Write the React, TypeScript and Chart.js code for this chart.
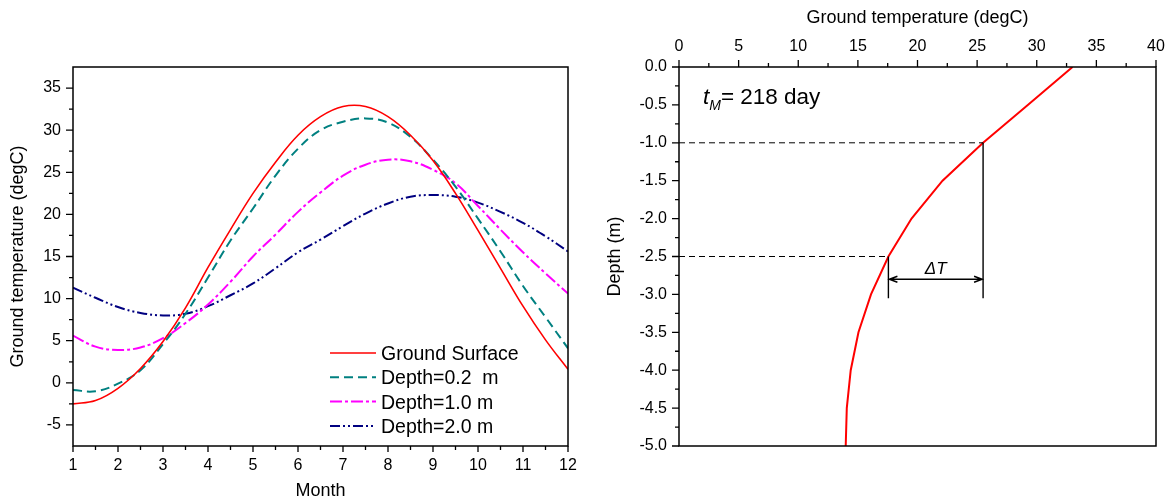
import React, { useEffect, useRef } from "react";
import { Chart, registerables } from "chart.js";

Chart.register(...registerables);

const FONT = '"Liberation Sans", Arial, Helvetica, sans-serif';
Chart.defaults.font.family = FONT;
Chart.defaults.color = "#000";

// ---------- Left chart data ----------
const months = [1, 1.5, 2, 2.5, 3, 3.5, 4, 4.5, 5, 5.5, 6, 6.5, 7, 7.5, 8, 8.5, 9, 9.5, 10, 10.5, 11, 11.5, 12];
const groundSurface = [-2.5, -2.1, -0.65, 1.7, 4.9, 8.9, 13.7, 18.2, 22.5, 26.2, 29.4, 31.6, 32.8, 32.8, 31.6, 29.4, 26.4, 22.5, 18.1, 13.6, 9.1, 5.1, 1.6];
const depth02 = [-0.85, -1.0, -0.1, 1.5, 4.6, 8.2, 12.5, 16.9, 20.7, 24.6, 27.8, 30.0, 31.0, 31.4, 30.9, 29.2, 26.5, 23.3, 19.5, 15.6, 11.5, 7.8, 4.1];
const depth10 = [5.6, 4.3, 3.9, 4.2, 5.3, 7.1, 9.3, 12.0, 15.0, 17.6, 20.3, 22.6, 24.6, 25.9, 26.5, 26.3, 25.3, 23.7, 21.0, 18.2, 15.5, 13.0, 10.6];
const depth20 = [11.3, 10.1, 9.0, 8.3, 8.0, 8.2, 9.1, 10.4, 11.8, 13.6, 15.5, 17.0, 18.6, 20.1, 21.3, 22.1, 22.3, 22.1, 21.4, 20.3, 19.0, 17.4, 15.6];
const seriesLabels = ["Ground Surface", "Depth=0.2  m", "Depth=1.0 m", "Depth=2.0 m"];

const monthTicks = [1, 2, 3, 4, 5, 6, 7, 8, 9, 10, 11, 12];
const monthMinor = [1.5, 2.5, 3.5, 4.5, 5.5, 6.5, 7.5, 8.5, 9.5, 10.5, 11.5];
const tempTicksLeft = [-5, 0, 5, 10, 15, 20, 25, 30, 35];
const tempMinorLeft = [-2.5, 2.5, 7.5, 12.5, 17.5, 22.5, 27.5, 32.5];

// ---------- Right chart data ----------
const profileDepth = [0, -0.5, -1.0, -1.5, -2.0, -2.5, -3.0, -3.5, -4.0, -4.5, -5.0];
const profileTemp = [33.0, 29.25, 25.5, 22.1, 19.5, 17.56, 16.1, 15.05, 14.4, 14.07, 13.98];
const guideDepths = [-1.0, -2.5];
const guideTemps = [25.5, 17.56];
const guideBottom = -3.05;
const arrowDepth = -2.8;
const tempTicksRight = [0, 5, 10, 15, 20, 25, 30, 35, 40];
const tempMinorRight = [2.5, 7.5, 12.5, 17.5, 22.5, 27.5, 32.5, 37.5];
const depthTicks = [0, -0.5, -1.0, -1.5, -2.0, -2.5, -3.0, -3.5, -4.0, -4.5, -5.0];
const depthMinor = [-0.25, -0.75, -1.25, -1.75, -2.25, -2.75, -3.25, -3.75, -4.25, -4.75];

const leftStyles = [
  { color: "#ff0000", width: 1.6, dash: [] as number[] },
  { color: "#008080", width: 2, dash: [9, 5] },
  { color: "#ff00ff", width: 2, dash: [12, 3, 3, 3] },
  { color: "#000080", width: 2, dash: [10, 3, 2, 3, 2, 3] },
];

function fixX(h: number) {
  return (s: any) => {
    s.height = h;
    s.paddingLeft = 0;
    s.paddingRight = 0;
  };
}
function fixY(w: number) {
  return (s: any) => {
    s.width = w;
    s.paddingTop = 0;
    s.paddingBottom = 0;
  };
}

function leftConfig(): any {
  const series = [groundSurface, depth02, depth10, depth20];
  const plugin = {
    id: "leftDeco",
    afterDatasetsDraw(chart: any) {
      const { ctx, chartArea: a, scales } = chart;
      ctx.save();
      ctx.strokeStyle = "#000";
      ctx.lineWidth = 1.5;
      ctx.setLineDash([]);
      ctx.strokeRect(a.left, a.top, a.right - a.left, a.bottom - a.top);
      ctx.lineWidth = 1.3;
      ctx.beginPath();
      monthTicks.forEach((v) => { const p = scales.x.getPixelForValue(v); ctx.moveTo(p, a.bottom); ctx.lineTo(p, a.bottom + 6); });
      monthMinor.forEach((v) => { const p = scales.x.getPixelForValue(v); ctx.moveTo(p, a.bottom); ctx.lineTo(p, a.bottom + 4); });
      tempTicksLeft.forEach((v) => { const p = scales.y.getPixelForValue(v); ctx.moveTo(a.left, p); ctx.lineTo(a.left - 7, p); });
      tempMinorLeft.forEach((v) => { const p = scales.y.getPixelForValue(v); ctx.moveTo(a.left, p); ctx.lineTo(a.left - 4, p); });
      ctx.stroke();
      // legend
      const lx0 = 330, lx1 = 376, tx = 381;
      const baselines = [360, 384.3, 408.6, 433];
      ctx.font = `19.5px ${FONT}`;
      ctx.fillStyle = "#000";
      ctx.textBaseline = "alphabetic";
      ctx.textAlign = "left";
      seriesLabels.forEach((lab, i) => {
        const s = leftStyles[i];
        const ly = baselines[i] - 7;
        ctx.strokeStyle = s.color;
        ctx.lineWidth = s.width;
        ctx.setLineDash(s.dash);
        ctx.beginPath();
        ctx.moveTo(lx0, ly);
        ctx.lineTo(lx1, ly);
        ctx.stroke();
        ctx.setLineDash([]);
        ctx.fillText(lab, tx, baselines[i]);
      });
      ctx.restore();
    },
  };
  return {
    type: "line",
    data: {
      labels: months,
      datasets: series.map((d, i) => ({
        label: seriesLabels[i],
        data: months.map((m, j) => ({ x: m, y: d[j] })),
        borderColor: leftStyles[i].color,
        borderWidth: leftStyles[i].width,
        borderDash: leftStyles[i].dash,
        pointRadius: 0,
        tension: 0.4,
        fill: false,
      })),
    },
    options: {
      responsive: false,
      animation: false,
      devicePixelRatio: 1,
      layout: { padding: { left: 0, right: 22, top: 67, bottom: 0 } },
      plugins: { legend: { display: false }, tooltip: { enabled: false } },
      scales: {
        x: {
          type: "linear",
          min: 1,
          max: 12,
          grid: { display: false, drawTicks: false },
          border: { display: false },
          afterBuildTicks: (s: any) => { s.ticks = monthTicks.map((v) => ({ value: v })); },
          afterFit: fixX(54),
          ticks: { autoSkip: false, maxRotation: 0, padding: 10, font: { size: 16 }, color: "#000" },
          title: { display: true, text: "Month", font: { size: 18, lineHeight: 1 }, padding: { top: 0, bottom: 0 }, color: "#000" },
        },
        y: {
          type: "linear",
          min: -7.5,
          max: 37.5,
          grid: { display: false, drawTicks: false },
          border: { display: false },
          afterBuildTicks: (s: any) => { s.ticks = tempTicksLeft.map((v) => ({ value: v })); },
          afterFit: fixY(73),
          ticks: { autoSkip: false, padding: 12, font: { size: 16 }, color: "#000" },
          title: { display: true, text: "Ground temperature (degC)", font: { size: 18, lineHeight: 1 }, padding: { top: 9, bottom: 0 }, color: "#000" },
        },
      },
    },
    plugins: [plugin],
  };
}

function rightConfig(): any {
  const plugin = {
    id: "rightDeco",
    afterDatasetsDraw(chart: any) {
      const { ctx, chartArea: a, scales } = chart;
      ctx.save();
      ctx.strokeStyle = "#000";
      ctx.lineWidth = 1.5;
      ctx.setLineDash([]);
      ctx.strokeRect(a.left, a.top, a.right - a.left, a.bottom - a.top);
      ctx.lineWidth = 1.3;
      ctx.beginPath();
      tempTicksRight.forEach((v) => { const p = scales.x.getPixelForValue(v); ctx.moveTo(p, a.top); ctx.lineTo(p, a.top - 7); });
      tempMinorRight.forEach((v) => { const p = scales.x.getPixelForValue(v); ctx.moveTo(p, a.top); ctx.lineTo(p, a.top - 4); });
      depthTicks.forEach((v) => { const p = scales.y.getPixelForValue(v); ctx.moveTo(a.left, p); ctx.lineTo(a.left - 7, p); });
      depthMinor.forEach((v) => { const p = scales.y.getPixelForValue(v); ctx.moveTo(a.left, p); ctx.lineTo(a.left - 4, p); });
      ctx.stroke();
      // double arrow
      const ay = scales.y.getPixelForValue(arrowDepth);
      const ax0 = scales.x.getPixelForValue(guideTemps[1]);
      const ax1 = scales.x.getPixelForValue(guideTemps[0]);
      ctx.lineWidth = 1.5;
      ctx.beginPath();
      ctx.moveTo(ax0, ay); ctx.lineTo(ax1, ay);
      ctx.moveTo(ax0 + 9, ay - 3); ctx.lineTo(ax0 + 1, ay); ctx.lineTo(ax0 + 9, ay + 3);
      ctx.moveTo(ax1 - 9, ay - 3); ctx.lineTo(ax1 - 1, ay); ctx.lineTo(ax1 - 9, ay + 3);
      ctx.stroke();
      ctx.fillStyle = "#000";
      ctx.textAlign = "center";
      ctx.textBaseline = "alphabetic";
      ctx.font = `italic 17px ${FONT}`;
      ctx.fillText("\u0394T", (ax0 + ax1) / 2, ay - 5);
      // t_M label
      ctx.textAlign = "left";
      let x = a.left + 24;
      const by = a.top + 37;
      ctx.font = `italic 22.5px ${FONT}`;
      ctx.fillText("t", x, by);
      x += ctx.measureText("t").width;
      ctx.font = `italic 14px ${FONT}`;
      ctx.fillText("M", x, by + 6);
      x += ctx.measureText("M").width;
      ctx.font = `22.5px ${FONT}`;
      ctx.fillText("= 218 day", x, by);
      ctx.restore();
    },
  };
  const guideH = guideDepths.map((d, i) => ({
    data: [{ x: 0, y: d }, { x: guideTemps[i], y: d }],
    borderColor: "#000",
    borderWidth: 1,
    borderDash: [6, 4],
    pointRadius: 0,
    tension: 0,
  }));
  const guideV = guideDepths.map((d, i) => ({
    data: [{ x: guideTemps[i], y: d }, { x: guideTemps[i], y: guideBottom }],
    borderColor: "#000",
    borderWidth: 1.4,
    pointRadius: 0,
    tension: 0,
  }));
  return {
    type: "line",
    data: {
      datasets: [
        ...guideH,
        ...guideV,
        {
          data: profileDepth.map((d, i) => ({ x: profileTemp[i], y: d })),
          borderColor: "#ff0000",
          borderWidth: 2,
          pointRadius: 0,
          tension: 0,
        },
      ],
    },
    options: {
      responsive: false,
      animation: false,
      devicePixelRatio: 1,
      layout: { padding: { left: 0, right: 12, top: 0, bottom: 54 } },
      plugins: { legend: { display: false }, tooltip: { enabled: false } },
      scales: {
        x: {
          type: "linear",
          position: "top",
          min: 0,
          max: 40,
          grid: { display: false, drawTicks: false },
          border: { display: false },
          afterBuildTicks: (s: any) => { s.ticks = tempTicksRight.map((v) => ({ value: v })); },
          afterFit: fixX(67),
          ticks: { autoSkip: false, maxRotation: 0, padding: 11, font: { size: 16 }, color: "#000" },
          title: { display: true, text: "Ground temperature (degC)", font: { size: 18, lineHeight: 1 }, padding: { top: 9, bottom: 0 }, color: "#000" },
        },
        y: {
          type: "linear",
          min: -5,
          max: 0,
          grid: { display: false, drawTicks: false },
          border: { display: false },
          afterBuildTicks: (s: any) => { s.ticks = depthTicks.map((v) => ({ value: v })); },
          afterFit: fixY(89),
          ticks: { autoSkip: false, padding: 12, font: { size: 16 }, color: "#000", callback: (v: any) => Number(v).toFixed(1) },
          title: { display: true, text: "Depth (m)", font: { size: 18, lineHeight: 1 }, padding: { top: 16, bottom: 0 }, color: "#000" },
        },
      },
    },
    plugins: [plugin],
  };
}

export default function App() {
  const leftRef = useRef<HTMLCanvasElement>(null);
  const rightRef = useRef<HTMLCanvasElement>(null);
  useEffect(() => {
    const left = new Chart(leftRef.current as HTMLCanvasElement, leftConfig());
    const right = new Chart(rightRef.current as HTMLCanvasElement, rightConfig());
    return () => {
      left.destroy();
      right.destroy();
    };
  }, []);
  return (
    <div style={{ position: "fixed", left: 0, top: 0, width: 1168, height: 500, background: "#fff" }}>
      <canvas ref={leftRef} width={590} height={500} style={{ position: "absolute", left: 0, top: 0, width: 590, height: 500 }} />
      <canvas ref={rightRef} width={578} height={500} style={{ position: "absolute", left: 590, top: 0, width: 578, height: 500 }} />
    </div>
  );
}
